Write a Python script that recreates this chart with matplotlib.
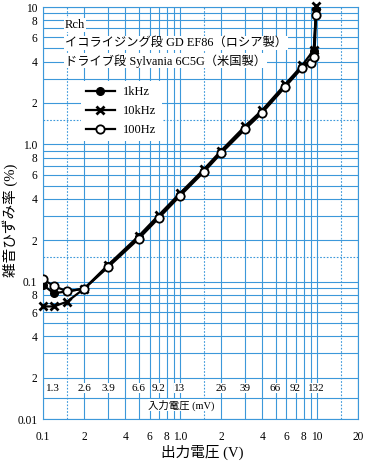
import matplotlib
matplotlib.use("Agg")
import matplotlib.pyplot as plt
from matplotlib.lines import Line2D

plt.rcParams['font.family'] = ['Liberation Serif', 'Noto Sans CJK JP', 'DejaVu Sans']

# measured data (output voltage V -> THD+N %)
x_1k = [0.1, 0.12, 0.15, 0.2, 0.3, 0.5, 0.7, 1.0, 1.5, 2.0, 3.0, 4.0, 5.9, 7.8, 9.0, 9.5, 9.9]
thd_1k = [0.0946, 0.0823, 0.085, 0.089, 0.13, 0.21, 0.295, 0.43, 0.64, 0.875, 1.31, 1.73, 2.68, 3.65, 4.0, 4.8, 9.6]

x_10k = [0.1, 0.12, 0.15, 0.2, 0.3, 0.5, 0.7, 1.0, 1.5, 2.0, 3.0, 4.0, 5.9, 7.8, 9.5, 9.9]
thd_10k = [0.066, 0.066, 0.0715, 0.089, 0.133, 0.215, 0.305, 0.44, 0.66, 0.90, 1.36, 1.78, 2.75, 3.75, 4.86, 10.2]

x_100 = [0.1, 0.12, 0.15, 0.2, 0.3, 0.5, 0.7, 1.0, 1.5, 2.0, 3.0, 4.0, 5.9, 7.8, 9.0, 9.6, 9.9]
thd_100 = [0.104, 0.093, 0.085, 0.089, 0.128, 0.205, 0.29, 0.42, 0.63, 0.86, 1.29, 1.70, 2.63, 3.6, 3.93, 4.35, 8.8]

# input voltage (mV) needed for given output voltage
in_out_v = [0.1, 0.2, 0.3, 0.5, 0.7, 1.0, 2.0, 3.0, 5.0, 7.0, 10.0]
in_mv_labels = ["1.3", "2.6", "3.9", "6.6", "9.2", "13", "26", "39", "66", "92", "132"]

xtick_pos = [0.1, 0.2, 0.4, 0.6, 0.8, 1, 2, 4, 6, 8, 10, 20]
xtick_lab = ["0.1", "2", "4", "6", "8", "1.0", "2", "4", "6", "8", "10", "20"]
ytick_pos = [10, 8, 6, 4, 2, 1, 0.8, 0.6, 0.4, 0.2, 0.1, 0.08, 0.06, 0.04, 0.02, 0.01]
ytick_lab = ["10", "8", "6", "4", "2", "1.0", "8", "6", "4", "2", "0.1", "8", "6", "4", "2", "0.01"]

grid_c = '#3c98da'

fig = plt.figure(figsize=(3.66, 4.61), dpi=100)
ax = fig.add_axes([43/366, 1-419/461, 315/366, 412/461])
ax.set_xscale('log')
ax.set_yscale('log')
ax.set_xlim(0.1, 20)
ax.set_ylim(0.01, 10)

# graph paper grid
for dec in [0.1, 1, 10]:
    for m in range(1, 10):
        v = dec * m
        if v <= 20:
            ax.axvline(v, color=grid_c, lw=0.8, zorder=1)
    if dec * 1.5 < 20:
        ax.axvline(dec * 1.5, color=grid_c, lw=0.8, ls=(0, (1.5, 1.5)), zorder=1)
ax.axvline(20, color=grid_c, lw=0.8, zorder=1)
for dec in [0.01, 0.1, 1]:
    for m in range(1, 10):
        ax.axhline(dec * m, color=grid_c, lw=0.8, zorder=1)
    if dec > 0.01:
        ax.axhline(dec * 1.5, color=grid_c, lw=0.8, ls=(0, (1.5, 1.5)), zorder=1)
ax.axhline(10, color=grid_c, lw=0.8, zorder=1)
ax.axhline(0.0143, color=grid_c, lw=0.8, zorder=1)

for s in ax.spines.values():
    s.set_color(grid_c)
    s.set_linewidth(0.8)

ax.set_xticks(xtick_pos, xtick_lab)
ax.set_yticks(ytick_pos, ytick_lab)
ax.minorticks_off()
ax.tick_params(length=0, labelsize=8.3)
ax.tick_params(axis='x', pad=9)
ax.tick_params(axis='y', pad=4)

# curves
ax.plot(x_10k, thd_10k, color='black', lw=1.6, marker='x', ms=5.5, mew=2,
        label='10kHz', zorder=4, clip_on=False)
ax.plot(x_1k, thd_1k, color='black', lw=1.6, marker='o', ms=5.5,
        label='1kHz', zorder=5)
ax.plot(x_100, thd_100, color='black', lw=1.6, marker='o', ms=6, mfc='white',
        mew=1.3, label='100Hz', zorder=6)

handles = [
    Line2D([], [], color='black', lw=1.6, marker='o', ms=5.5),
    Line2D([], [], color='black', lw=1.6, marker='x', ms=5.5, mew=2),
    Line2D([], [], color='black', lw=1.6, marker='o', ms=6, mfc='white', mew=1.3),
]
leg = ax.legend(handles, ['1kHz', '10kHz', '100Hz'], loc='upper left',
                bbox_to_anchor=(0.12, 0.82), fontsize=9, handlelength=2.3,
                handletextpad=0.7, labelspacing=0.55, borderpad=0.4,
                borderaxespad=0, frameon=True, fancybox=False, framealpha=1,
                edgecolor='none', facecolor='white')
leg.set_zorder(7)

# annotation block
box = dict(facecolor='white', edgecolor='none', pad=0.5)
ax.text(0.07, 0.956, 'Rch', transform=ax.transAxes, fontsize=9, va='center', bbox=box, zorder=7)
ax.text(0.07, 0.913, 'イコライジング段 GD EF86（ロシア製）', transform=ax.transAxes,
        fontsize=8.8, va='center', bbox=box, zorder=7)
ax.text(0.07, 0.869, 'ドライブ段 Sylvania 6C5G（米国製）', transform=ax.transAxes,
        fontsize=8.8, va='center', bbox=box, zorder=7)

# input voltage row
lab_box = dict(facecolor='white', edgecolor='none', pad=0.3)
for i, (xv, lab) in enumerate(zip(in_out_v, in_mv_labels)):
    if i == 0:
        ax.annotate(lab, xy=(xv, 0.0168), xytext=(2, 0), textcoords='offset points',
                    ha='left', va='center', fontsize=8, bbox=lab_box, zorder=3)
    else:
        ax.text(xv, 0.0168, lab, ha='center', va='center', fontsize=8, bbox=lab_box, zorder=3)
ax.text(1.03, 0.0126, '入力電圧 (mV)', ha='center', va='center', fontsize=7.5,
        bbox=lab_box, zorder=3)

fig.text(202/366, 1-452/461, '出力電圧 (V)', ha='center', va='center', fontsize=10.5)
fig.text(10/366, 1-220/461, '雑音ひずみ率 (%)', ha='center', va='center', fontsize=10.5,
         rotation=90)

fig.savefig('out.png', dpi=100, facecolor='white')
